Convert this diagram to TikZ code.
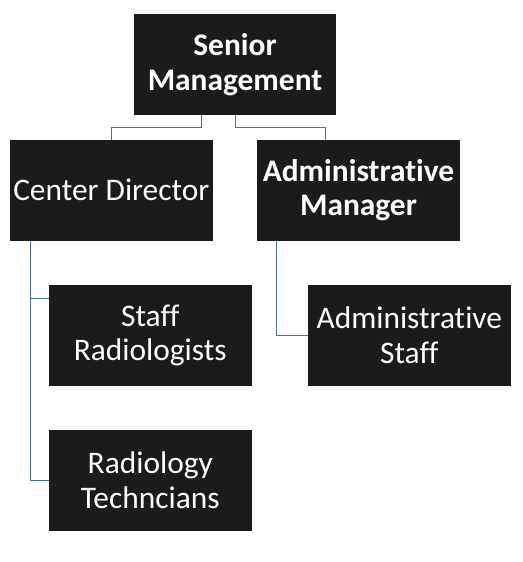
\documentclass[tikz,border=0pt]{standalone}
\usepackage{fontspec}
\setmainfont{Carlito}[Ligatures={NoCommon}]
\begin{document}
\begin{tikzpicture}[x=1pt,y=-1pt,
  box/.style={rectangle, fill=boxblack, draw=none, text=white, align=center,
    inner sep=0pt, minimum width=202.5pt, minimum height=100.7pt,
    font=\fontsize{31.4}{34.5}\selectfont},
  conn/.style={draw=connblue, line width=1pt}]
\definecolor{boxblack}{HTML}{1B1B1B}
\definecolor{connblue}{HTML}{4A6FA8}
\useasboundingbox[fill=white] (0,0) rectangle (522,562);

\node[box, minimum width=201.7pt, minimum height=101pt] (sm) at (235,64.5) {\bfseries Senior\\\bfseries Management};
\node[box] (cd) at (111.3,190.3) {Center Director};
\node[box] (am) at (358.5,190.3) {\bfseries Administrative\\\bfseries Manager};
\node[box] (sr) at (150.3,335.3) {Staff\\Radiologists};
\node[box] (rt) at (150.3,480.3) {Radiology\\Techncians};
\node[box] (as) at (409.3,335.3) {Administrative\\Staff};

\draw[conn] ([xshift=-34pt]sm.south) -- ++(0pt,-12.7pt) -| (cd.north);
\draw[conn] (sm.south) -- ++(0pt,-12.7pt) -| ([xshift=-33.5pt]am.north);

\coordinate (cdx) at ([xshift=20.3pt]cd.south west);
\coordinate (srb) at ([yshift=37.3pt]sr.west);
\draw[conn] (cdx) |- (rt.west);
\draw[conn] (srb -| cdx) -- (srb);

\coordinate (amx) at ([xshift=19.3pt]am.south west);
\draw[conn] (amx) |- (as.west);
\end{tikzpicture}
\end{document}
